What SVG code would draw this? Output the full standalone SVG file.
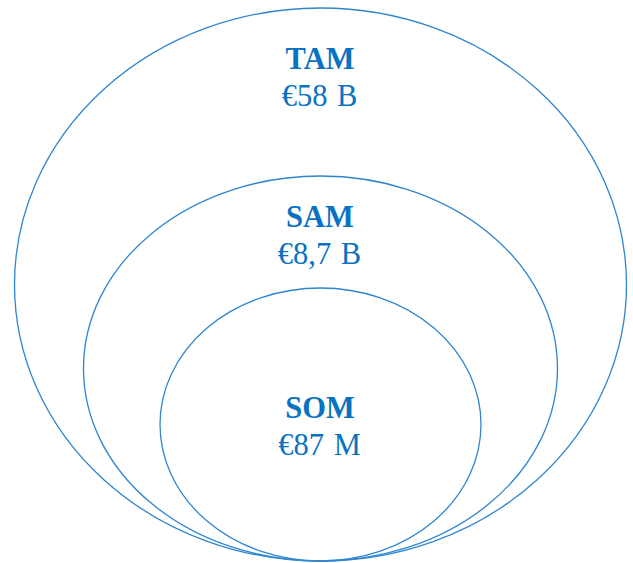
<svg xmlns="http://www.w3.org/2000/svg" width="633" height="563" viewBox="0 0 633 563">
<style>
.ring{fill:none;stroke:#2E86D0;stroke-width:1.3}
.t{font-family:"Liberation Serif","Times New Roman",serif;fill:#0A72C2;text-anchor:middle}
.h{font-weight:bold;font-size:30.5px}
.v{font-size:30.5px;word-spacing:2px}
</style>
<rect width="633" height="563" fill="#fff"/>
<g id="tam">
<ellipse class="ring" cx="320.5" cy="284.5" rx="306" ry="276.5"/>
<text class="t h" x="320" y="68.5">TAM</text>
<text class="t v" x="319.5" y="106">€58 B</text>
</g>
<g id="sam">
<ellipse class="ring" cx="320.5" cy="368.5" rx="237" ry="192.5"/>
<text class="t h" x="320" y="227">SAM</text>
<text class="t v" x="319.5" y="264">€8,7 B</text>
</g>
<g id="som">
<ellipse class="ring" cx="320.5" cy="424.5" rx="160.5" ry="136.5"/>
<text class="t h" x="320" y="418">SOM</text>
<text class="t v" x="319.5" y="455">€87 M</text>
</g>
<g id="connectors"></g>
</svg>
